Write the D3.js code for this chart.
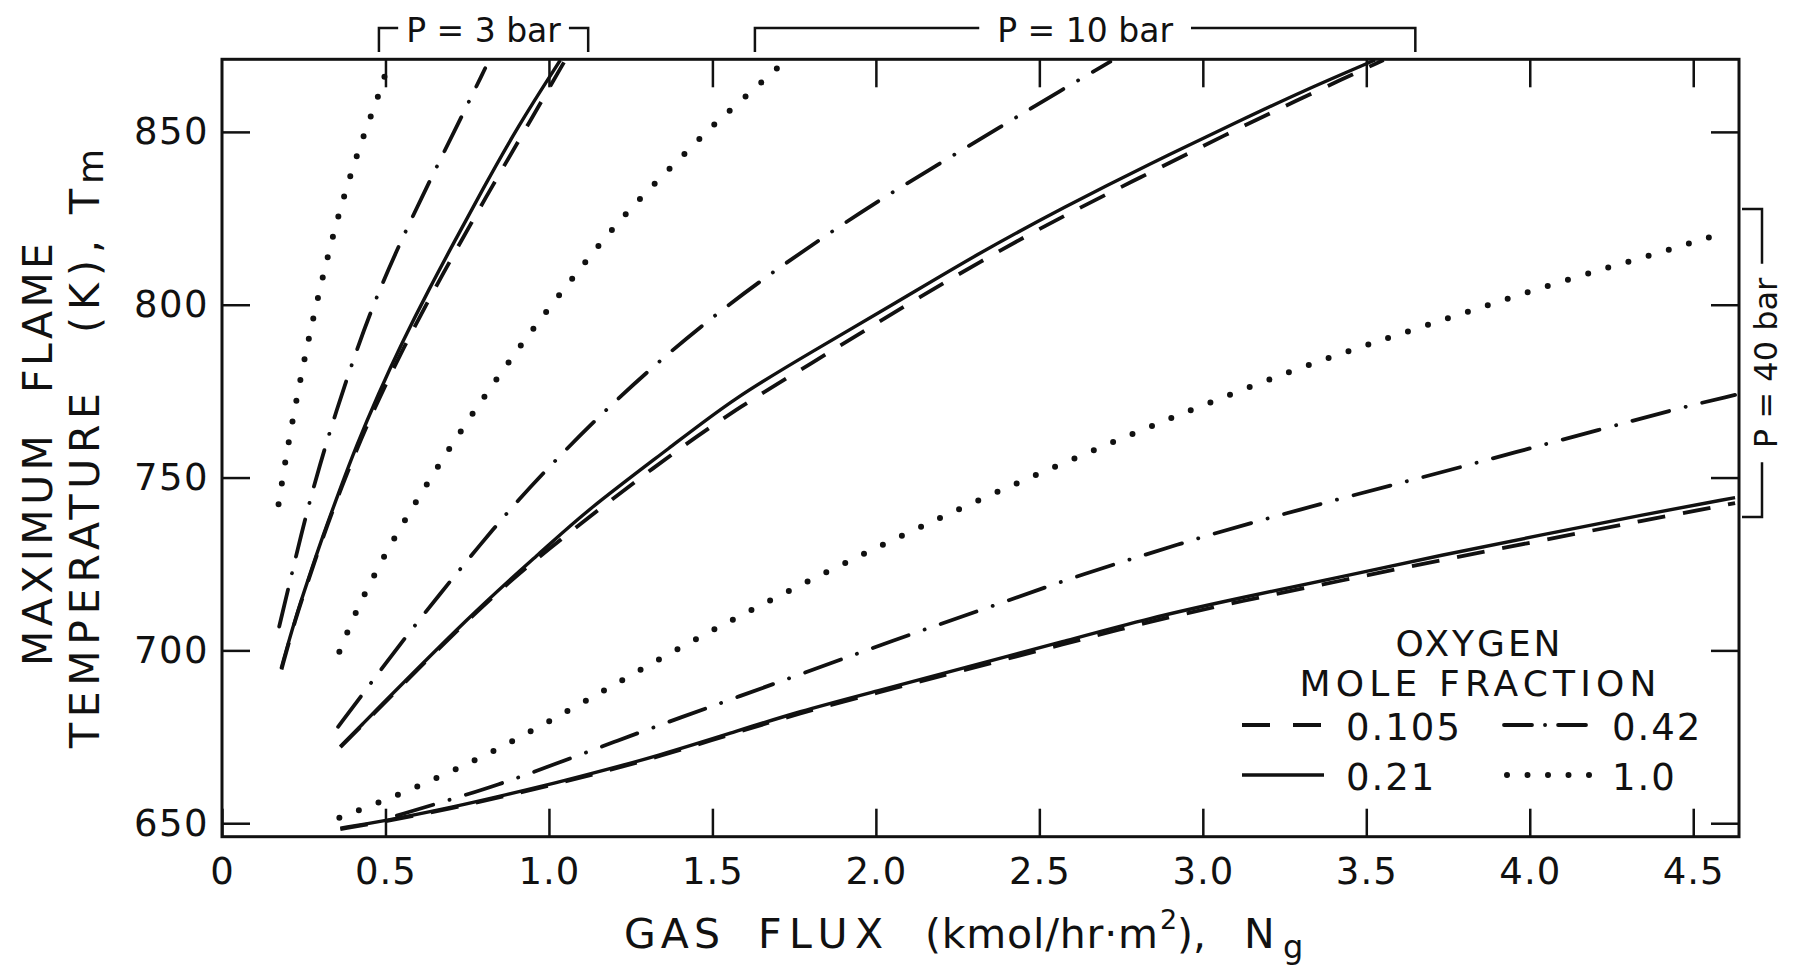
<!DOCTYPE html>
<html>
<head>
<meta charset="utf-8">
<script src="https://cdn.jsdelivr.net/npm/d3@7"></script>
<style>
  body { margin: 0; background: #fff; }
  text { font-family: "DejaVu Sans", sans-serif; fill: #111; }
</style>
</head>
<body>
<div id="chart"></div>
<script>
var width = 1795;
var height = 965;

// [gas flux (kmol/hr m2), max flame temperature (K)]
// P = 3 bar
var p3_0105 = [[0.182, 694.5], [0.224, 709], [0.265, 720.5], [0.306, 732], [0.362, 746.5], [0.449, 766.7], [0.556, 787.9], [0.673, 808.6], [0.805, 830.8], [0.948, 854], [1.05, 870.8]];
var p3_021 = [[0.181, 694.8], [0.224, 709.3], [0.265, 720.9], [0.306, 732.5], [0.362, 746.9], [0.408, 758.5], [0.479, 774.4], [0.55, 788.9], [0.632, 804.3], [0.714, 818.8], [0.795, 833], [0.907, 852], [1.035, 870.8]];
var p3_042 = [[0.175, 706.9], [0.209, 720.4], [0.253, 737.7], [0.299, 753.7], [0.349, 769.1], [0.406, 785.4], [0.469, 801.6], [0.548, 818.6], [0.634, 835.6], [0.724, 852.7], [0.805, 868.4]];
var p3_10 = [[0.173, 742.3], [0.192, 753.7], [0.202, 759.2], [0.236, 776.8], [0.273, 793.7], [0.314, 810.5], [0.359, 827.1], [0.418, 845.2], [0.487, 862.6], [0.5, 867]];

// P = 10 bar
var p10_0105 = [[0.362, 672], [0.78, 711.8], [0.979, 728], [1.335, 754.2], [1.585, 770.7], [1.855, 786], [2.12, 801.6], [2.489, 821.7], [2.783, 835.6], [3.089, 850.1], [3.252, 857.5], [3.425, 865.2], [3.553, 870.8]];
var p10_021 = [[0.362, 672.2], [0.78, 712.2], [0.979, 728.6], [1.111, 740.2], [1.381, 759.4], [1.56, 772.6], [1.804, 786.4], [2.059, 800.4], [2.314, 814.9], [2.579, 828.4], [2.834, 840.6], [3.119, 853.5], [3.303, 861.7], [3.527, 870.8]];
var p10_042 = [[0.355, 677.9], [0.433, 687.7], [0.547, 702.1], [0.668, 716.5], [0.787, 730.3], [0.907, 743.7], [1.038, 756.8], [1.177, 769.9], [1.33, 783.1], [1.486, 795.4], [1.651, 807.2], [1.82, 818.3], [1.996, 829.4], [2.189, 840.5], [2.38, 851.4], [2.569, 862.2], [2.717, 870.3]];
var p10_10 = [[0.359, 699.6], [0.408, 711], [0.467, 722.1], [0.53, 733.1], [0.599, 743.8], [0.665, 753.9], [0.739, 764.7], [0.812, 774.7], [0.885, 784.5], [0.963, 794.5], [1.048, 804.8], [1.131, 814.7], [1.213, 824], [1.305, 833.4], [1.402, 842.4], [1.493, 851.2], [1.585, 858.8], [1.713, 869.7]];

// P = 40 bar
var p40_0105 = [[0.362, 648.3], [0.489, 650.3], [0.714, 654.5], [0.867, 657.9], [1.019, 661.3], [1.172, 665], [1.325, 669], [1.56, 675.8], [1.764, 681.8], [1.998, 687.6], [2.273, 694.4], [2.579, 701.9], [2.834, 708.3], [3.119, 714.3], [3.425, 720.2], [3.731, 726.2], [4.037, 731.8], [4.343, 737.5], [4.628, 742.6]];
var p40_021 = [[0.362, 648.6], [0.489, 650.5], [0.714, 654.8], [0.867, 658.2], [1.019, 661.6], [1.172, 665.4], [1.325, 669.3], [1.56, 676.2], [1.764, 682.3], [1.998, 688.1], [2.273, 695], [2.579, 702.7], [2.834, 709.3], [3.119, 715.3], [3.425, 721.3], [3.731, 727.6], [4.037, 733.4], [4.343, 739.2], [4.628, 744.2]];
var p40_042 = [[0.535, 652.2], [0.663, 655.8], [0.846, 661.1], [1.019, 667.1], [1.201, 673.6], [1.368, 679.4], [1.764, 692.9], [1.972, 700.1], [2.174, 706.9], [2.387, 713.8], [2.602, 721.1], [2.821, 727.6], [3.035, 733.9], [3.257, 739.7], [3.476, 745.3], [3.71, 751], [3.955, 757.3], [4.213, 763.8], [4.444, 769.8], [4.628, 773.9]];
var p40_10 = [[0.359, 651.6], [0.584, 659.8], [0.824, 670.3], [1.055, 682.3], [1.261, 693.4], [1.478, 704.8], [1.657, 713.5], [1.893, 724.8], [2.134, 735.7], [2.385, 746.5], [2.637, 756.8], [2.9, 767.2], [3.282, 781.4], [3.547, 789.8], [3.827, 798.5], [4.11, 807.2], [4.402, 815.2], [4.604, 821.1]];

var fractions = ["0.105", "0.21", "0.42", "1.0"];
var xTicks = [0, 0.5, 1, 1.5, 2, 2.5, 3, 3.5, 4, 4.5];
var xTickLabels = ["0", "0.5", "1.0", "1.5", "2.0", "2.5", "3.0", "3.5", "4.0", "4.5"];
var yTicks = [650, 700, 750, 800, 850];
var xDomain = [0, 4.64];
var yDomain = [646.1, 871];

// pressure brackets: flux span for 3 and 10 bar, temperature span for 40 bar
var p3Span = [0.48, 1.12];
var p10Span = [1.63, 3.65];
var p40Span = [738.6, 827.7];

var curves = [
  { frac: "0.105", pts: p3_0105 }, { frac: "0.21", pts: p3_021 }, { frac: "0.42", pts: p3_042 }, { frac: "1.0", pts: p3_10 },
  { frac: "0.105", pts: p10_0105 }, { frac: "0.21", pts: p10_021 }, { frac: "0.42", pts: p10_042 }, { frac: "1.0", pts: p10_10 },
  { frac: "0.105", pts: p40_0105 }, { frac: "0.21", pts: p40_021 }, { frac: "0.42", pts: p40_042 }, { frac: "1.0", pts: p40_10 }
];

// line style per oxygen mole fraction
var styles = {
  "0.105": { w: 3.8, dash: "28,18", legendDash: "28,23", cap: "butt" },
  "0.21": { w: 3.4, dash: null, legendDash: null, cap: "butt" },
  "0.42": { w: 3.8, dash: "38,17,0.1,17", legendDash: "28,13,0.1,13,28", cap: "round" },
  "1.0": { w: 6, dash: "0,21", legendDash: "0,20.5", cap: "round" }
};

var svg = d3
  .select("#chart")
  .append("svg")
  .attr("width", width)
  .attr("height", height);

var x = d3.scaleLinear().domain(xDomain).range([222, 1739]);
var y = d3.scaleLinear().domain(yDomain).range([836.7, 59.3]);

var x0 = x.range()[0], x1 = x.range()[1];
var yb = y.range()[0], yt = y.range()[1];

svg.append("clipPath")
  .attr("id", "plot")
  .append("rect")
  .attr("x", x0)
  .attr("y", yt)
  .attr("width", x1 - x0)
  .attr("height", yb - yt);

function styleLine(sel, s, dash) {
  sel.attr("fill", "none")
    .attr("stroke", "#111")
    .attr("stroke-width", s.w)
    .attr("stroke-linecap", s.cap)
    .attr("stroke-dasharray", dash);
}

// basis spline smooths out the reading noise in the points
var line = d3
  .line()
  .x(function(d) { return x(d[0]); })
  .y(function(d) { return y(d[1]); })
  .curve(d3.curveBasis);

svg.append("g")
  .attr("clip-path", "url(#plot)")
  .selectAll("path")
  .data(curves)
  .enter()
  .append("path")
  .attr("d", function(d) { return line(d.pts); })
  .each(function(d) {
    styleLine(d3.select(this), styles[d.frac], styles[d.frac].dash);
  });

// axes: ticks point inwards on all four sides
function fixAxis(g) {
  g.select(".domain").remove();
  g.selectAll("line").attr("stroke", "#111").attr("stroke-width", 2.5);
  g.attr("font-family", "DejaVu Sans").attr("font-size", 37);
}

var gx = svg.append("g")
  .attr("transform", "translate(0," + yb + ")")
  .call(d3.axisBottom(x).tickValues(xTicks).tickSize(-28)
    .tickFormat(function(d, i) { return xTickLabels[i]; }));
fixAxis(gx);
gx.selectAll("text").attr("y", 47).attr("dy", null).attr("letter-spacing", 1);

svg.append("g")
  .attr("transform", "translate(0," + yt + ")")
  .call(d3.axisTop(x).tickValues(xTicks.slice(1)).tickSize(-28).tickFormat(""))
  .call(fixAxis);

var gy = svg.append("g")
  .attr("transform", "translate(" + x0 + ",0)")
  .call(d3.axisLeft(y).tickValues(yTicks).tickSize(-28).tickPadding(13));
fixAxis(gy);
gy.selectAll("text").attr("letter-spacing", 1.5);

svg.append("g")
  .attr("transform", "translate(" + x1 + ",0)")
  .call(d3.axisRight(y).tickValues(yTicks).tickSize(-28).tickFormat(""))
  .call(fixAxis);

svg.append("rect")
  .attr("x", x0)
  .attr("y", yt)
  .attr("width", x1 - x0)
  .attr("height", yb - yt)
  .attr("fill", "none")
  .attr("stroke", "#111")
  .attr("stroke-width", 3);

// text helpers
function label(str, px, py, len, size, anchor) {
  var t = svg.append("text")
    .attr("x", px)
    .attr("y", py)
    .attr("font-size", size)
    .attr("text-anchor", anchor || "start")
    .text(str);
  if (len) t.attr("textLength", len).attr("lengthAdjust", "spacing");
  return t;
}

function rotLabel(str, px, py, len, size, anchor) {
  var t = svg.append("text")
    .attr("transform", "translate(" + px + "," + py + ") rotate(-90)")
    .attr("font-size", size)
    .attr("text-anchor", anchor || "start")
    .text(str);
  if (len) t.attr("textLength", len).attr("lengthAdjust", "spacing");
  return t;
}

// y axis title, two rotated lines
rotLabel("MAXIMUM", 52, 666, 231, 41);
rotLabel("FLAME", 52, 393, 150, 41);
rotLabel("TEMPERATURE", 99, 748, 355, 41);
rotLabel("(K),", 99, 333, 93, 41);
rotLabel("T", 99, 214, null, 41);
rotLabel("m", 103, 184, null, 36);

// x axis title
label("GAS", 624, 948, 96, 41);
label("FLUX", 758, 948, 125, 41);
label("(kmol/hr\u00b7m", 925, 948, 233, 41);
label("2", 1160, 929, null, 27);
label("),", 1177, 948, null, 41);
label("N", 1244, 948, null, 41);
label("g", 1283, 958, null, 32);

// pressure brackets
function topBracket(span, text, gap) {
  var xl = x(span[0]), xr = x(span[1]), by = 28;
  var t = label(text, (xl + xr) / 2, 42, null, 33, "middle");
  var tw = t.node().getComputedTextLength();
  var tl = (xl + xr) / 2 - tw / 2 - gap, tr = (xl + xr) / 2 + tw / 2 + gap;
  var p = "M" + xl + "," + 52 + "V" + by + "H" + tl + "M" + tr + "," + by + "H" + xr + "V" + 52;
  svg.append("path").attr("d", p).attr("fill", "none").attr("stroke", "#111").attr("stroke-width", 2.5);
}
topBracket(p3Span, "P = 3 bar", 8);
topBracket(p10Span, "P = 10 bar", 18);

var ylo = y(p40Span[0]), yhi = y(p40Span[1]), bx = 1762;
var t40 = rotLabel("P = 40 bar", 1777, (ylo + yhi) / 2, null, 32, "middle");
var tw40 = t40.node().getComputedTextLength();
svg.append("path")
  .attr("d", "M1742," + yhi + "H" + bx + "V" + ((ylo + yhi) / 2 - tw40 / 2 - 14) +
    "M" + bx + "," + ((ylo + yhi) / 2 + tw40 / 2 + 14) + "V" + ylo + "H1742")
  .attr("fill", "none")
  .attr("stroke", "#111")
  .attr("stroke-width", 2.5);

// legend
label("OXYGEN", 1478, 656, 165, 36, "middle");
label("MOLE FRACTION", 1478, 696, 357, 36, "middle");

var lg = svg.append("g")
  .selectAll("g")
  .data(fractions)
  .enter()
  .append("g")
  .attr("transform", function(d, i) {
    return "translate(" + (1242 + Math.floor(i / 2) * 262) + "," + (725 + (i % 2) * 50) + ")";
  });

lg.append("path")
  .attr("d", function(d) { return d === "1.0" ? "M3,0H86" : "M0,0H82"; })
  .each(function(d) {
    styleLine(d3.select(this), styles[d], styles[d].legendDash);
  });

lg.append("text")
  .attr("x", function(d, i) { return i < 2 ? 104 : 108; })
  .attr("y", 15)
  .attr("font-size", 37)
  .attr("letter-spacing", 2)
  .text(function(d) { return d; });
</script>
</body>
</html>
